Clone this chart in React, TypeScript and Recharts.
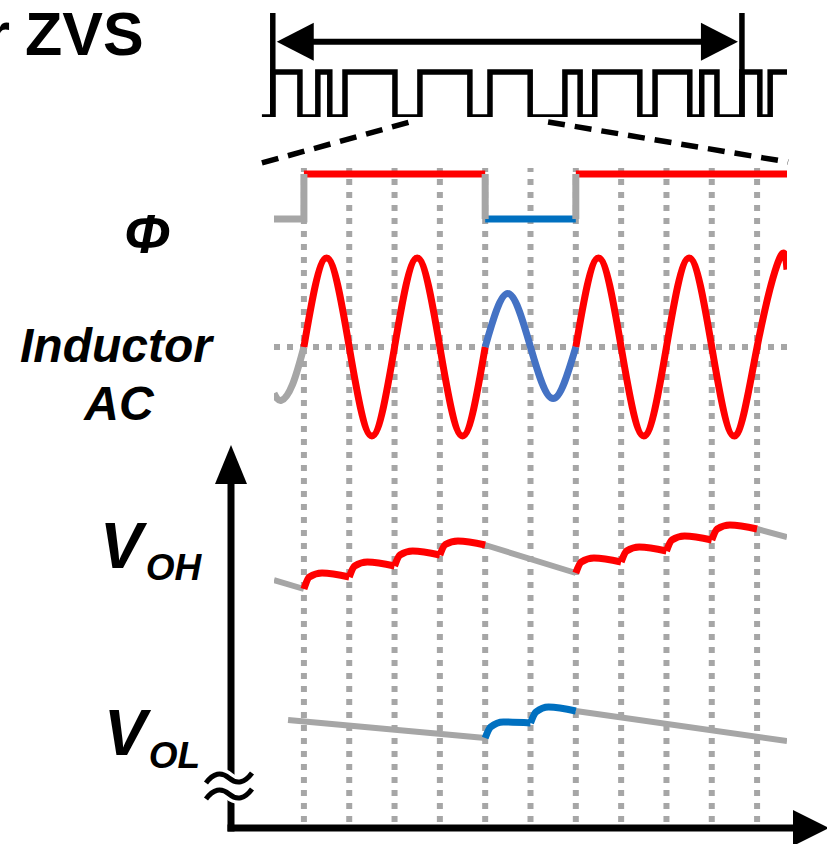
import React from "react";
import {
  ComposedChart,
  Line,
  LineChart,
  ReferenceLine,
  XAxis,
  YAxis
} from "recharts";

const FONT = '"Liberation Sans", Arial, Helvetica, sans-serif';
const RED = "#ff0000";
const GREY = "#a6a6a6";
const BLUE = "#0070c0";
const BLUE_IL = "#4472c4";

// zoomed view: time in half periods of the inductor ringing
const T_MIN = -0.66;
const T_MAX = 10.66;
const gridT = [0, 1, 2, 3, 4, 5, 6, 7, 8, 9, 10];

// Φ (1 = high, 0 = low)
const phiRed = [
  { t: 0, phi: 1 }, { t: 4, phi: 1 }, { t: 5, phi: null }, { t: 6, phi: 1 }, { t: 10.66, phi: 1 }
];
const phiBlue = [{ t: 4, phi: 0 }, { t: 6, phi: 0 }];
const phiGrey = [
  { t: -0.66, phi: 0 }, { t: 0, phi: 0 }, { t: 0, phi: 1 }, { t: 2, phi: null },
  { t: 4, phi: 1 }, { t: 4, phi: 0 }, { t: 5, phi: null }, { t: 6, phi: 0 }, { t: 6, phi: 1 }
];

// inductor AC current (normalised)
const ilT = [-0.66, -0.5, -0.25, 0, 0.5, 1, 1.5, 2, 2.5, 3, 3.5, 4, 4.5, 5, 5.5, 6, 6.5, 7, 7.5, 8, 8.5, 9, 9.5, 10, 10.5, 10.66];
const ilGrey = [-0.52, -0.6, -0.42, 0, null, null, null, null, null, null, null, null, null, null, null, null, null, null, null, null, null, null, null, null, null, null];
const ilRed = [null, null, null, 0, 1, 0, -1, 0, 1, 0, -1, 0, null, null, null, 0, 1, 0, -1, 0, 1, 0, -1, 0, 1, 0.87];
const ilBlue = [null, null, null, null, null, null, null, null, null, null, null, 0, 0.6, 0, -0.58, 0, null, null, null, null, null, null, null, null, null, null];

// output voltages, one entry per charging step: [t, level]
const ohSteps = [
  [[0, 23.1], [0.12, 24.3], [0.4, 24.7], [1, 24.3]],
  [[1, 24.3], [1.12, 25.4], [1.4, 25.8], [2, 25.4]],
  [[2, 25.4], [2.12, 26.5], [2.4, 26.9], [3, 26.5]],
  [[3, 26.5], [3.12, 27.55], [3.4, 27.9], [4, 27.5]],
  [[6, 24.7], [6.12, 25.8], [6.4, 26.2], [7, 25.8]],
  [[7, 25.8], [7.12, 26.9], [7.4, 27.3], [8, 26.9]],
  [[8, 26.9], [8.12, 28.0], [8.4, 28.4], [9, 28.0]],
  [[9, 28.0], [9.12, 29.1], [9.4, 29.5], [10, 29.1]]
];
const ohGrey = [
  { t: -0.66, v: 24.0 }, { t: 0, v: 23.1 }, { t: 2, v: null }, { t: 4, v: 27.5 }, { t: 6, v: 24.7 },
  { t: 8, v: null }, { t: 10, v: 29.1 }, { t: 10.66, v: 28.3 }
];
const olSteps = [
  [[4, 8.2], [4.12, 9.3], [4.4, 9.8], [5, 9.7]],
  [[5, 9.7], [5.12, 10.8], [5.4, 11.3], [6, 10.9]]
];
const olGrey = [
  { t: -0.35, v: 10.0 }, { t: 4, v: 8.2 }, { t: 5, v: null }, { t: 6, v: 10.9 }, { t: 10.66, v: 7.9 }
];

// top overview: switching pattern (edge times and levels)
const pulseT = [3.3, 5.3, 10.3, 13.6, 15.8, 18.6, 27.8, 32.4, 41.6, 45.3, 52.7, 59.1, 61.9, 64.6, 72.9, 75.7, 82.1, 84.3, 87.1, 91.7, 95.0, 96.9, 100];
const pulseLevel = [0, 1, 0, 1, 0, 1, 0, 1, 0, 1, 0, 1, 0, 1, 0, 1, 0, 1, 0, 1, 0, 1, 1];
const periodMarks = [5.3, 91.7];

const ilData = ilT.map((t, i) => ({ t, grey: ilGrey[i], red: ilRed[i], blue: ilBlue[i] }));
const pulseData = pulseT.map((T, i) => ({ T, level: pulseLevel[i] }));
const toPts = (seg: number[][]) => seg.map(([t, v]) => ({ t, v }));

// layout of the main plot
const W = 827;
const H = 844;
const PLOT_TOP = 168;
const PLOT_BOTTOM = 822;

// y domain so that value v1 sits at pixel y1 and v2 at y2
function band(v1: number, y1: number, v2: number, y2: number): [number, number] {
  const k = (y2 - y1) / (v2 - v1);
  return [v1 + (PLOT_BOTTOM - y1) / k, v1 + (PLOT_TOP - y1) / k];
}

const line = { dot: false, activeDot: false, isAnimationActive: false } as const;
const dotted = { stroke: GREY, strokeWidth: 6, strokeDasharray: "6 7", zIndex: -50 } as const;

function DoubleArrow(props: any) {
  const { x1, y1, x2 } = props;
  const head = 37;
  const half = 19;
  const a = x1 + 4;
  const b = x2 - 4;
  return (
    <g>
      <line x1={a + head - 4} y1={y1} x2={b - head + 4} y2={y1} stroke="#000" strokeWidth={6} />
      <polygon points={`${a},${y1} ${a + head},${y1 - half} ${a + head},${y1 + half}`} fill="#000" />
      <polygon points={`${b},${y1} ${b - head},${y1 - half} ${b - head},${y1 + half}`} fill="#000" />
    </g>
  );
}

function Overview() {
  return (
    <LineChart width={W} height={170} data={pulseData} margin={{ top: 13, right: 40, bottom: 53, left: 244 }}>
      <XAxis type="number" dataKey="T" domain={[0, 100]} hide />
      <YAxis type="number" domain={[0, 2.31]} hide allowDataOverflow />
      <Line type="stepAfter" dataKey="level" stroke="#000" strokeWidth={5.5} {...line} />
      {periodMarks.map((m) => (
        <ReferenceLine key={m} segment={[{ x: m, y: 0 }, { x: m, y: 2.31 }]} stroke="#000" strokeWidth={5.5} ifOverflow="visible" />
      ))}
      <ReferenceLine
        segment={[{ x: periodMarks[0], y: 1.67 }, { x: periodMarks[1], y: 1.67 }]}
        ifOverflow="visible"
        shape={(p: any) => <DoubleArrow {...p} />}
      />
      <ReferenceLine segment={[{ x: 3.3, y: -1.02 }, { x: 30.6, y: -0.11 }]} stroke="#000" strokeWidth={5.5} strokeDasharray="17 10" ifOverflow="visible" />
      <ReferenceLine segment={[{ x: 56.0, y: -0.11 }, { x: 100.2, y: -1.0 }]} stroke="#000" strokeWidth={5.5} strokeDasharray="17 10" ifOverflow="visible" />
    </LineChart>
  );
}

function Waveforms() {
  return (
    <ComposedChart width={W} height={H} margin={{ top: PLOT_TOP, right: 40, bottom: H - PLOT_BOTTOM, left: 274 }}>
      <XAxis type="number" dataKey="t" domain={[T_MIN, T_MAX]} hide allowDataOverflow />
      <YAxis yAxisId="phi" type="number" domain={band(0, 219, 1, 174)} hide allowDataOverflow />
      <YAxis yAxisId="il" type="number" domain={band(0, 347, 1, 258)} hide allowDataOverflow />
      <YAxis yAxisId="vo" type="number" domain={band(0, 820, 10, 720)} hide allowDataOverflow />
      {gridT.map((t) => (
        <ReferenceLine key={`g${t}`} yAxisId="vo" x={t} {...dotted} />
      ))}
      <ReferenceLine yAxisId="il" y={0} {...dotted} />

      <Line data={phiRed} yAxisId="phi" dataKey="phi" type="linear" stroke={RED} strokeWidth={7} {...line} />
      <Line data={phiBlue} yAxisId="phi" dataKey="phi" type="linear" stroke={BLUE} strokeWidth={7} {...line} />
      <Line data={phiGrey} yAxisId="phi" dataKey="phi" type="linear" stroke={GREY} strokeWidth={7} {...line} />

      <Line data={ilData} yAxisId="il" dataKey="grey" type="natural" stroke={GREY} strokeWidth={7} {...line} />
      <Line data={ilData} yAxisId="il" dataKey="red" type="natural" stroke={RED} strokeWidth={7} {...line} />
      <Line data={ilData} yAxisId="il" dataKey="blue" type="natural" stroke={BLUE_IL} strokeWidth={7} {...line} />

      <Line data={ohGrey} yAxisId="vo" dataKey="v" type="linear" stroke={GREY} strokeWidth={6} {...line} />
      {ohSteps.map((s, i) => (
        <Line key={`oh${i}`} data={toPts(s)} yAxisId="vo" dataKey="v" type="monotone" stroke={RED} strokeWidth={7} {...line} />
      ))}
      <Line data={olGrey} yAxisId="vo" dataKey="v" type="linear" stroke={GREY} strokeWidth={6} {...line} />
      {olSteps.map((s, i) => (
        <Line key={`ol${i}`} data={toPts(s)} yAxisId="vo" dataKey="v" type="monotone" stroke={BLUE} strokeWidth={7} {...line} />
      ))}
    </ComposedChart>
  );
}

function tilde(y: number) {
  return `M206 ${y + 5} Q 217 ${y - 10} 229 ${y} T 252 ${y - 5}`;
}

function Annotations() {
  const lab = { fontFamily: FONT, fontWeight: 700, fontStyle: "italic", fill: "#000" } as const;
  return (
    <svg width={W} height={H} style={{ position: "absolute", left: 0, top: 0, pointerEvents: "none" }}>
      <text x={10} y={55} textAnchor="end" fontFamily={FONT} fontWeight={700} fontSize={61}>for</text>
      <text x={25} y={55} fontFamily={FONT} fontWeight={700} fontSize={61}>ZVS</text>
      <text x={147} y={253} textAnchor="middle" fontSize={56} {...lab}>Φ</text>
      <text x={116} y={362} textAnchor="middle" fontSize={48} {...lab}>Inductor</text>
      <text x={119} y={420} textAnchor="middle" fontSize={48} {...lab}>AC</text>
      <text x={100} y={568} fontSize={64} {...lab}>
        V<tspan fontSize={37} dx={3} dy={12}>OH</tspan>
      </text>
      <text x={104} y={755} fontSize={64} {...lab}>
        V<tspan fontSize={37} dx={2} dy={13}>OL</tspan>
      </text>

      {/* axes */}
      <line x1={231} y1={831.5} x2={231} y2={478} stroke="#000" strokeWidth={7} />
      <polygon points="215,484 247,484 231,445" fill="#000" />
      <line x1={227.5} y1={828} x2={797} y2={828} stroke="#000" strokeWidth={7} />
      <polygon points="793,810 793,846 829,828" fill="#000" />

      {/* axis break */}
      <rect x={223} y={779} width={16} height={14} fill="#fff" />
      <path d={tilde(778)} stroke="#fff" strokeWidth={12} fill="none" />
      <path d={tilde(794)} stroke="#fff" strokeWidth={12} fill="none" />
      <path d={tilde(778)} stroke="#000" strokeWidth={5} fill="none" />
      <path d={tilde(794)} stroke="#000" strokeWidth={5} fill="none" />
    </svg>
  );
}

export default function App() {
  return (
    <div style={{ position: "absolute", left: 0, top: 0, width: W, height: H, background: "#fff", overflow: "hidden" }}>
      <div style={{ position: "absolute", left: 0, top: 0 }}>
        <Waveforms />
      </div>
      <div style={{ position: "absolute", left: 0, top: 0 }}>
        <Overview />
      </div>
      <Annotations />
    </div>
  );
}
